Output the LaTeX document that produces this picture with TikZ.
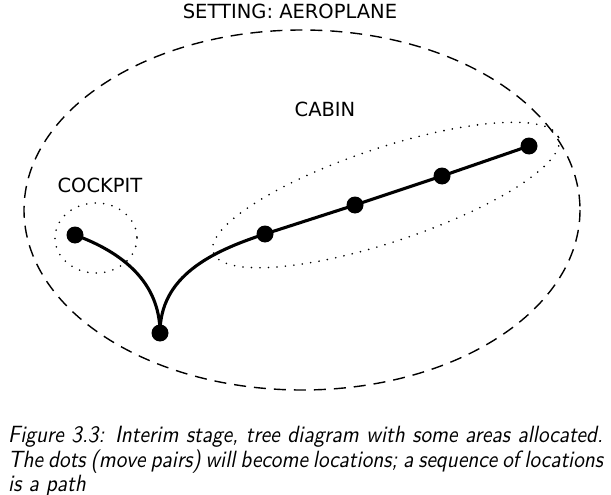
\documentclass[tikz,border=0pt]{standalone}
\usepackage{fontspec}
\newfontfamily\labfont{DejaVu Sans}
\usetikzlibrary{calc}
\newcommand{\capline}[1]{\scalebox{2.13}[2.35]{\sffamily\itshape\fontsize{10}{12}\selectfont\spaceskip=3.33pt plus 2pt minus 1.6pt\relax #1}}
\begin{document}
\begin{tikzpicture}[x=1pt,y=-1pt,
  dot/.style={circle,fill=black,minimum size=17pt,inner sep=0pt},
  lab/.style={font=\labfont\fontsize{19.5}{22}\selectfont,inner sep=0pt},
  capt/.style={anchor=base west,inner sep=0pt},
  edge/.style={line width=3.1pt},
  region/.style={line width=1.8pt,dash pattern=on 0pt off 8.5pt,line cap=round},
  setting/.style={line width=1.4pt,dash pattern=on 12pt off 8pt}]
\useasboundingbox (0,0) rectangle (611,495);
% setting
\draw[setting] (302,210) ellipse [x radius=278,y radius=180];
\node[lab] (tset) at (290,11) {SETTING: AEROPLANE};
% regions
\draw[region] (96,238) ellipse [x radius=41,y radius=35];
\draw[region,rotate around={18.4:(386,195)}] (386,195) ellipse [x radius=182,y radius=47];
\node[lab] (tcab) at (325,109) {CABIN};
\node[lab] (tcock) at (100,185) {COCKPIT};
% dots
\node[dot] (root) at (160,333) {};
\node[dot] (ck) at (75,235) {};
\node[dot] (c1) at (265,234) {};
\node[dot] (c2) at (355,205) {};
\node[dot] (c3) at (442,176) {};
\node[dot] (c4) at (529,146) {};
\draw[edge] (root.center) to[out=90,in=-20] (ck.center);
\draw[edge] (root.center) to[out=90,in=198] (c1.center);
\draw[edge] (c1.center) -- (c2.center) -- (c3.center) -- (c4.center);
% caption
\node[capt] (cap1) at (8,442) {\capline{\hbox to 279.3pt{Figure 3.3: Interim stage, tree diagram with some areas allocated.}}};
\node[capt] (cap2) at (8,467) {\capline{\hbox to 279.3pt{The dots (move pairs) will become locations; a sequence of locations}}};
\node[capt] (cap3) at (8,491) {\capline{\hbox{is a path}}};
\end{tikzpicture}
\end{document}
